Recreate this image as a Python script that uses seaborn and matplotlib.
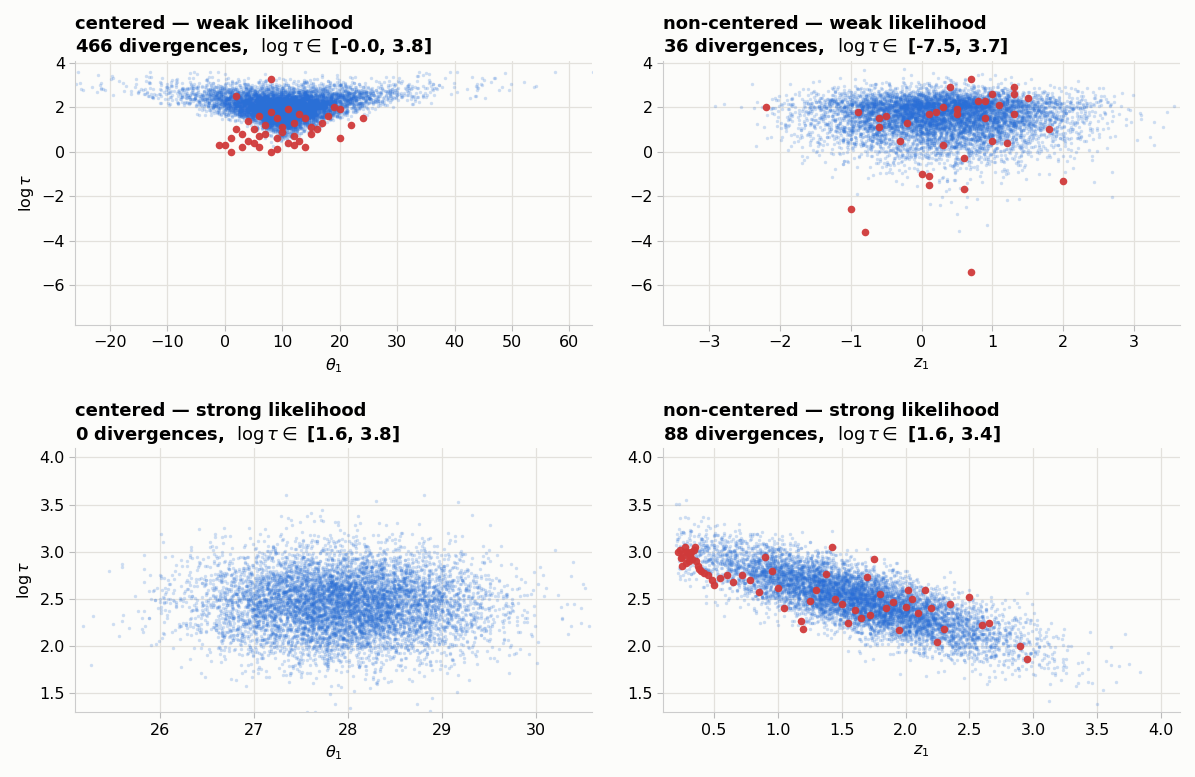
import numpy as np
import pandas as pd
import seaborn as sns
import matplotlib.pyplot as plt

# shape of the posterior clouds (mean, spread)
cloud_c_weak = dict(lt_mean=2.05, lt_sd=0.5, th_mean=10.5, th_scale=0.8)
cloud_nc_weak = dict(z_mean=0.3, z_sd=0.9, lt_mean=1.7, lt_sd=0.7)
cloud_c_strong = dict(th_mean=27.95, th_sd=0.75, lt_mean=2.45, lt_sd=0.29)
cloud_nc_strong = dict(z_mean=1.6, z_sd=0.62, a=3.12, b=-0.38, sd=0.17)
n_draws = 8000

# divergent transitions (red)
div_c_weak_x = [8, 2, 0, 4, 6, 9, 11, 13, 15, 5, 7, 10, 12, 14, 3, 1, -1, 16, 18, 20, 24, 8, 10, 12,
                6, 4, 2, 9, 11, 13, 17, 19, 7, 5, 14, 15, 3, 6, 9, 12, 20, 22, 1, 8]
div_c_weak_y = [3.25, 2.5, 0.3, 0.5, 0.7, 0.6, 0.4, 0.5, 0.8, 1.0, 1.2, 1.1, 1.3, 1.5, 0.2, 0.0, 0.3, 1.0,
                1.6, 0.6, 1.5, 1.8, 0.9, 0.3, 0.2, 1.4, 1.0, 1.5, 1.9, 1.7, 1.3, 2.0, 0.8, 0.4, 0.2, 1.1,
                0.8, 1.6, 0.1, 0.7, 1.9, 1.2, 0.6, 0.0]
div_nc_weak_x = [-2.2, -0.9, -1.0, -0.8, -0.6, -0.5, -0.3, -0.2, 0.0, 0.1, 0.1, 0.2, 0.3, 0.4, 0.5, 0.6,
                 0.6, 0.7, 0.8, 0.9, 1.0, 1.0, 1.2, 1.3, 1.3, 1.5, 1.8, 2.0, 0.7, 0.3, 0.1, -0.6, 1.3,
                 0.9, 0.5, 1.1]
div_nc_weak_y = [2.0, 1.8, -2.6, -3.6, 1.1, 1.6, 0.5, 1.3, -1.0, -1.1, -1.5, 1.8, 0.3, 2.9, 1.9, -1.7,
                 -0.3, 3.25, 2.3, 2.3, 0.5, 2.6, 0.4, 1.7, 2.6, 2.4, 1.0, -1.3, -5.4, 2.0, 1.7, 1.5,
                 2.9, 1.5, 1.7, 2.1]
div_nc_strong_x = [0.22, 0.25, 0.27, 0.3, 0.32, 0.35, 0.25, 0.28, 0.3, 0.33, 0.23, 0.27, 0.31, 0.36,
                   0.38, 0.4, 0.42, 0.45, 0.5, 0.55, 0.6, 0.65, 0.72, 0.78, 0.85, 0.9, 0.95, 1.0,
                   1.05, 1.18, 1.2, 1.3, 1.38, 1.42, 1.45, 1.5, 1.55, 1.6, 1.65, 1.7, 1.75, 1.8,
                   1.85, 1.9, 1.95, 2.0, 2.05, 2.1, 2.15, 2.2, 2.25, 2.3, 2.35, 2.5, 2.6, 2.65,
                   2.9, 2.95, 0.34, 0.29, 0.24, 0.37, 0.48, 1.25, 1.72, 2.02]
div_nc_strong_y = [3.0, 2.95, 3.05, 2.9, 3.0, 3.05, 2.85, 2.88, 2.95, 2.92, 3.02, 3.0, 2.97, 2.9,
                   2.82, 2.8, 2.78, 2.75, 2.65, 2.72, 2.75, 2.68, 2.75, 2.7, 2.57, 2.95, 2.8, 2.62,
                   2.4, 2.27, 2.18, 2.6, 2.77, 3.05, 2.5, 2.45, 2.25, 2.38, 2.3, 2.73, 2.92, 2.55,
                   2.4, 2.47, 2.17, 2.42, 2.5, 2.35, 2.6, 2.4, 2.05, 2.18, 2.45, 2.52, 2.22, 2.25,
                   2.0, 1.87, 3.02, 3.0, 2.93, 2.85, 2.7, 2.48, 2.33, 2.6]

rng = np.random.default_rng(1)
lt = rng.normal(cloud_c_weak["lt_mean"], cloud_c_weak["lt_sd"], n_draws)
lt = np.clip(lt, -0.1, 3.6)
th = cloud_c_weak["th_mean"] + cloud_c_weak["th_scale"] * np.exp(lt) * rng.normal(0, 1, n_draws)
d1 = pd.DataFrame({"x": th, "y": lt})

z = rng.normal(cloud_nc_weak["z_mean"], cloud_nc_weak["z_sd"], n_draws)
lt2 = cloud_nc_weak["lt_mean"] + cloud_nc_weak["lt_sd"] * rng.normal(0, 1, n_draws)
lt2 = np.where(lt2 > 2.0, 2.0 + (lt2 - 2.0) * 0.7, lt2 - (2.0 - lt2) ** 2 * 0.25)
d2 = pd.DataFrame({"x": z, "y": np.clip(lt2, -7.6, 3.7)})

d3 = pd.DataFrame({"x": rng.normal(cloud_c_strong["th_mean"], cloud_c_strong["th_sd"], n_draws),
                   "y": rng.normal(cloud_c_strong["lt_mean"], cloud_c_strong["lt_sd"], n_draws)})

z4 = np.abs(rng.normal(cloud_nc_strong["z_mean"], cloud_nc_strong["z_sd"], n_draws))
z4 = z4[z4 > 0.2]
d4 = pd.DataFrame({"x": z4, "y": cloud_nc_strong["a"] + cloud_nc_strong["b"] * z4
                   + rng.normal(0, cloud_nc_strong["sd"], len(z4))})

sns.set_style("whitegrid")
plt.rcParams["font.family"] = ["DejaVu Sans"]
blue = "#2a6fd6"
red = "#d03a3a"
fig, axes = plt.subplots(2, 2, figsize=(11.95, 7.77), dpi=100)
fig.patch.set_facecolor("#fcfcfa")

panels = [
    (axes[0, 0], d1, div_c_weak_x, div_c_weak_y, "centered — weak likelihood", 466, "-0.0, 3.8",
     r"$\theta_1$", (-26, 64), (-7.8, 4.1)),
    (axes[0, 1], d2, div_nc_weak_x, div_nc_weak_y, "non-centered — weak likelihood", 36, "-7.5, 3.7",
     r"$z_1$", (-3.65, 3.65), (-7.8, 4.1)),
    (axes[1, 0], d3, [], [], "centered — strong likelihood", 0, "1.6, 3.8",
     r"$\theta_1$", (25.1, 30.6), (1.3, 4.1)),
    (axes[1, 1], d4, div_nc_strong_x, div_nc_strong_y, "non-centered — strong likelihood", 88,
     "1.6, 3.4", r"$z_1$", (0.1, 4.15), (1.3, 4.1)),
]

for i, (ax, d, rx, ry, name, ndiv, rng_txt, xl, xlim, ylim) in enumerate(panels):
    ax.set_facecolor("#fcfcfa")
    sns.scatterplot(data=d, x="x", y="y", ax=ax, color=blue, s=6, alpha=0.22, linewidth=0)
    if rx:
        sns.scatterplot(x=rx, y=ry, ax=ax, color=red, s=30, alpha=0.95, linewidth=0)
    ax.set_xlim(*xlim)
    ax.set_ylim(*ylim)
    ax.set_xlabel(xl, fontsize=11.5, color="black")
    ax.set_ylabel(r"$\log\tau$" if i % 2 == 0 else "", fontsize=11.5, color="black")
    ax.set_title(f"{name}\n{ndiv} divergences,  " + r"$\log\tau \in$" + f" [{rng_txt}]",
                 loc="left", fontsize=13, fontweight="bold", color="black")
    ax.tick_params(labelsize=11.5, length=4, color="#bbbbbb", labelcolor="black",
                   left=True, bottom=True)
    ax.grid(color="#e3e1dc", linewidth=0.9)
    for s in ["top", "right"]:
        ax.spines[s].set_visible(False)
    for s in ["left", "bottom"]:
        ax.spines[s].set_color("#cccccc")

plt.tight_layout(h_pad=2.0, w_pad=2.5)
plt.savefig("out.png", dpi=100, facecolor=fig.get_facecolor())
